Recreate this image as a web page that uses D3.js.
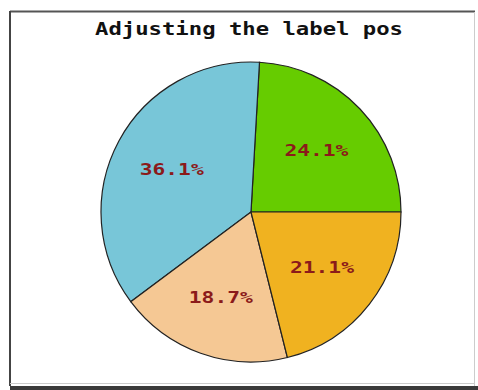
<!DOCTYPE html>
<html>
<head>
<meta charset="utf-8">
<script src="https://cdn.jsdelivr.net/npm/d3@7"></script>
<style>
html,body{margin:0;padding:0;background:#fff;}
svg{display:block;}
</style>
</head>
<body>
<script>
const title = "Adjusting the label pos";
const categories = ["A", "B", "C", "D"];
const values = [24.1, 36.1, 18.7, 21.1];
const colors = ["#66cc00", "#78c6d8", "#f5c894", "#f0b220"];

const W = 478, H = 390;
const svg = d3.select("body").append("svg").attr("width", W).attr("height", H);

// frame
svg.append("rect").attr("x", 10).attr("y", 11).attr("width", 465).attr("height", 375).attr("fill", "#fff");
svg.append("rect").attr("x", 10).attr("y", 386).attr("width", 468).attr("height", 4).attr("fill", "#3a3a3a");
svg.append("line").attr("x1", 10).attr("y1", 11.5).attr("x2", 475).attr("y2", 11.5).attr("stroke", "#555").attr("stroke-width", 2);
svg.append("line").attr("x1", 10).attr("y1", 11).attr("x2", 10).attr("y2", 386).attr("stroke", "#444").attr("stroke-width", 2);
svg.append("line").attr("x1", 474.5).attr("y1", 12).attr("x2", 474.5).attr("y2", 386).attr("stroke", "#ccc").attr("stroke-width", 1);
svg.append("line").attr("x1", 10).attr("y1", 383.5).attr("x2", 475).attr("y2", 383.5).attr("stroke", "#ccc").attr("stroke-width", 1);

// title
svg.append("text").attr("x", 249).attr("y", 35)
  .attr("text-anchor", "middle")
  .attr("font-family", "DejaVu Sans Mono")
  .attr("font-weight", "bold")
  .attr("font-size", 17)
  .attr("textLength", 308).attr("lengthAdjust", "spacingAndGlyphs")
  .attr("fill", "#111")
  .text(title);

const cx = 251, cy = 212, r = 150;
const g = svg.append("g").attr("transform", `translate(${cx},${cy})`);

const pie = d3.pie().sort(null).value(d => d)
  .startAngle(Math.PI / 2).endAngle(Math.PI / 2 - 2 * Math.PI);
const arcs = pie(values);
const arc = d3.arc().innerRadius(0).outerRadius(r);
const labelArc = d3.arc().innerRadius(r * 0.6).outerRadius(r * 0.6);

g.selectAll("path.slice").data(arcs).join("path")
  .attr("class", "slice")
  .attr("d", arc)
  .attr("fill", (d, i) => colors[i])
  .attr("stroke", "#222")
  .attr("stroke-width", 1.2);

const total = d3.sum(values);
g.selectAll("text.lbl").data(arcs).join("text")
  .attr("class", "lbl")
  .attr("transform", d => { const c = labelArc.centroid(d); return `translate(${c[0]},${c[1]})`; })
  .attr("text-anchor", "middle")
  .attr("dy", "0.36em")
  .attr("font-family", "DejaVu Sans Mono")
  .attr("font-weight", "bold")
  .attr("font-size", 16)
  .attr("textLength", 64).attr("lengthAdjust", "spacingAndGlyphs")
  .attr("fill", "#8b1a1a")
  .text(d => (d.data / total * 100).toFixed(1) + "%");
</script>
</body>
</html>
